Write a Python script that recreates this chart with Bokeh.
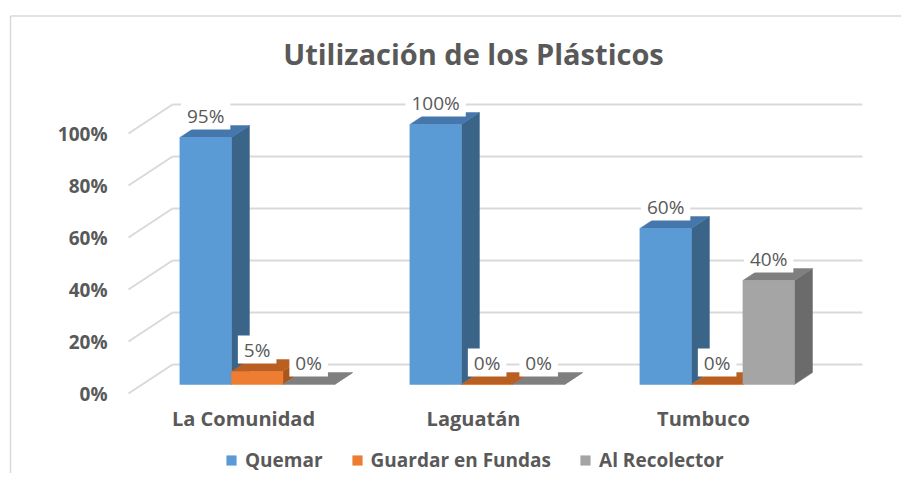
from bokeh.plotting import figure
from bokeh.models import Range1d, ColumnDataSource, Legend, LegendItem
from bokeh.embed import file_html
from bokeh.resources import INLINE
from bokeh.core.properties import value

# ---------------- data ----------------
categories = ["La Comunidad", "Laguatán", "Tumbuco"]
series_names = ["Quemar", "Guardar en Fundas", "Al Recolector"]
quemar = [0.95, 1.00, 0.60]
guardar = [0.05, 0.00, 0.00]
recolector = [0.00, 0.00, 0.40]
y_ticks = [0.0, 0.2, 0.4, 0.6, 0.8, 1.0]
y_tick_labels = ["0%", "20%", "40%", "60%", "80%", "100%"]
title_text = "Utilización de los Plásticos"

series_values = [quemar, guardar, recolector]

# ---------------- styles / geometry ----------------
front_colors = ["#5B9BD5", "#ED7D31", "#A5A5A5"]
top_colors = ["#4677AC", "#B95F22", "#7F7F7F"]
side_colors = ["#3B6489", "#A9561E", "#6B6B6B"]
GRID = "#D9D9D9"
TXT = "#595959"
FONT_NAME = "Open Sans"
FONT = value(FONT_NAME)

W, H = 901, 473
SX, SY = 230.0, 260.0            # px per category slot / per 100 %
OX, OY = 128.0, 393.0            # canvas px of the front-plane origin
DXB, DYB = 44.0 / SX, 29.0 / SY  # depth offset of back wall
BAR_FRONT, BAR_BACK = 0.31, 0.72 # depth fractions of bar faces
BAR_W = 0.224

dxf, dyf = DXB * BAR_FRONT, DYB * BAR_FRONT
dxb, dyb = DXB * BAR_BACK, DYB * BAR_BACK

p = figure(width=W, height=H, output_backend="svg", toolbar_location=None,
           x_range=Range1d(-OX / SX, (W - OX) / SX),
           y_range=Range1d(-(H - OY) / SY, OY / SY),
           x_axis_location=None, y_axis_location=None, min_border=0,
           min_border_left=0, min_border_right=0, min_border_top=0, min_border_bottom=0)
p.xgrid.visible = False
p.ygrid.visible = False
p.outline_line_color = None
p.background_fill_color = "white"
p.border_fill_color = "white"

# chart border (top + left)
bx = (10 - OX) / SX
by = (OY - 15.5) / SY
p.segment(x0=[bx, bx], y0=[by, by], x1=[p.x_range.end, bx], y1=[by, p.y_range.start],
          line_color=GRID, line_width=1.5)

ncat = len(categories)
# back wall gridlines and left wall diagonals
p.segment(x0=[DXB] * len(y_ticks), y0=[t + DYB for t in y_ticks],
          x1=[ncat + DXB] * len(y_ticks), y1=[t + DYB for t in y_ticks],
          line_color=GRID, line_width=2)
p.segment(x0=[0] * len(y_ticks), y0=y_ticks,
          x1=[DXB] * len(y_ticks), y1=[t + DYB for t in y_ticks],
          line_color=GRID, line_width=2)

# bars
front_renderers = []
label_x, label_y, label_t = [], [], []
for k, vals in enumerate(series_values):
    lefts = [i + 0.5 - 1.5 * BAR_W + k * BAR_W for i in range(ncat)]
    rights = [l + BAR_W for l in lefts]
    side_xs = [[r + dxf, r + dxb, r + dxb, r + dxf] for r in rights]
    side_ys = [[dyf, dyb, v + dyb, v + dyf] for v in vals]
    top_xs = [[l + dxf, r + dxf, r + dxb, l + dxb] for l, r in zip(lefts, rights)]
    top_ys = [[v + dyf, v + dyf, v + dyb, v + dyb] for v in vals]
    p.patches(xs=side_xs, ys=side_ys, fill_color=side_colors[k], line_color=side_colors[k], line_width=0.5)
    p.patches(xs=top_xs, ys=top_ys, fill_color=top_colors[k], line_color=top_colors[k], line_width=0.5)
    src = ColumnDataSource(dict(left=[l + dxf for l in lefts], right=[r + dxf for r in rights],
                                bottom=[dyf] * ncat, top=[v + dyf for v in vals]))
    r = p.quad(left="left", right="right", bottom="bottom", top="top", source=src,
               fill_color=front_colors[k], line_color=front_colors[k], line_width=0.5)
    front_renderers.append(r)
    for l, v in zip(lefts, vals):
        label_x.append(l + BAR_W / 2 + dxf)
        label_y.append(v + dyf + 22.0 / SY)
        label_t.append(f"{round(v * 100)}%")

# data labels with white boxes
p.text(x=label_x, y=label_y, text=label_t, text_font=FONT, text_font_size="19px",
       text_color=TXT, text_align="center", text_baseline="middle",
       background_fill_color="white", padding=dict(left=6, right=6, top=1, bottom=1))

# y tick labels (front plane)
p.text(x=[-21.0 / SX] * len(y_ticks), y=y_ticks, text=y_tick_labels, text_font=FONT,
       text_font_size="19px", text_font_style="bold", text_color=TXT,
       text_align="right", text_baseline="middle")

# category labels
p.text(x=[i + 0.5 for i in range(ncat)], y=[-25.0 / SY] * ncat, text=categories,
       text_font=FONT, text_font_size="20px", text_font_style="bold", text_color=TXT,
       text_align="center", text_baseline="middle")

# title
p.text(x=[ncat / 2.0], y=[(OY - 53) / SY], text=[title_text], text_font=FONT,
       text_font_size="29px", text_font_style="bold", text_color=TXT,
       text_align="center", text_baseline="middle")

legend = Legend(items=[LegendItem(label=n, renderers=[r]) for n, r in zip(series_names, front_renderers)],
                orientation="horizontal", location=(225, 0), padding=0, margin=0,
                border_line_color=None, background_fill_alpha=0,
                glyph_width=12, glyph_height=12, label_standoff=8, spacing=28,
                label_text_font=FONT_NAME, label_text_font_size="19px", label_text_font_style="bold",
                label_text_color=TXT)
p.add_layout(legend)

open("out.html", "w").write(file_html(p, INLINE))
